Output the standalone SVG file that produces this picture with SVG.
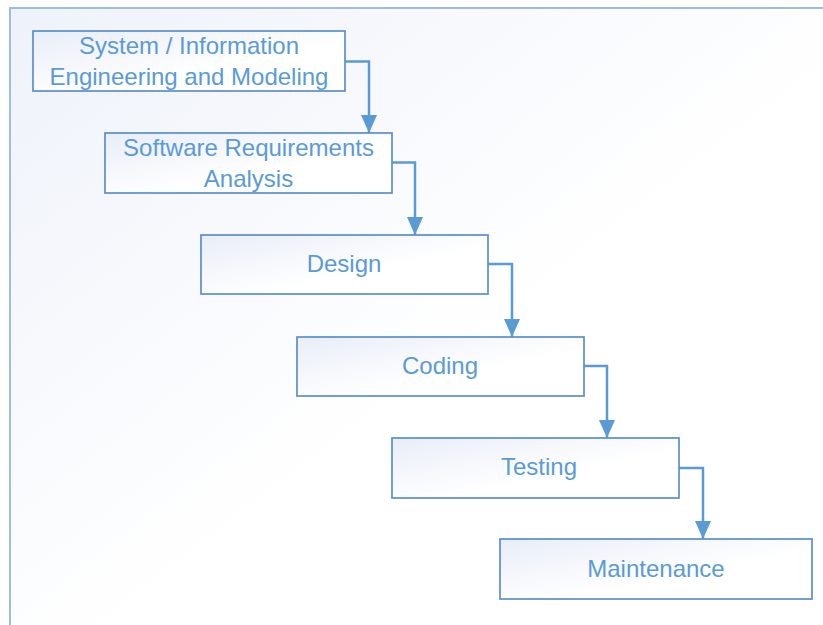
<svg xmlns="http://www.w3.org/2000/svg" width="823" height="625" viewBox="0 0 823 625">
  <defs>
    <linearGradient id="bg" x1="0" y1="0" x2="1" y2="1">
      <stop offset="0" stop-color="#eef2fa"/>
      <stop offset="0.55" stop-color="#ffffff"/>
      <stop offset="1" stop-color="#ffffff"/>
    </linearGradient>
    <linearGradient id="boxfill" x1="0" y1="0" x2="1" y2="1">
      <stop offset="0" stop-color="#e8edf8"/>
      <stop offset="0.6" stop-color="#ffffff"/>
      <stop offset="1" stop-color="#ffffff"/>
    </linearGradient>
    <marker id="arrow" markerUnits="userSpaceOnUse" markerWidth="19" markerHeight="17" refX="18" refY="8" orient="auto">
      <path d="M0,0 L18,8 L0,16 Z" fill="#5b9bd5"/>
    </marker>
  </defs>
  <style>
    .box { fill: url(#boxfill); stroke: #5b8fca; stroke-width: 1.7; }
    .lbl { font-family: "Liberation Sans", Arial, sans-serif; font-size: 24px; fill: #5b9bd5; text-anchor: middle; }
    .conn { fill: none; stroke: #5b9bd5; stroke-width: 2.5; marker-end: url(#arrow); }
  </style>
  <rect x="0" y="0" width="823" height="625" fill="#ffffff"/>
  <rect x="10" y="8" width="830" height="640" fill="url(#bg)" stroke="#a0bde0" stroke-width="2"/>

  <g id="connectors">
    <path class="conn" d="M345,61.5 H369 V133"/>
    <path class="conn" d="M392,162.5 H415 V235"/>
    <path class="conn" d="M488,264 H512 V337"/>
    <path class="conn" d="M584,366 H607 V438"/>
    <path class="conn" d="M679,468 H703 V539"/>
  </g>

  <g id="node-system">
    <rect class="box" x="33" y="31" width="312" height="60"/>
    <text class="lbl" x="189" y="54">System / Information</text>
    <text class="lbl" x="189" y="85">Engineering and Modeling</text>
  </g>
  <g id="node-requirements">
    <rect class="box" x="105" y="133" width="287" height="60"/>
    <text class="lbl" x="248.5" y="156">Software Requirements</text>
    <text class="lbl" x="248.5" y="187">Analysis</text>
  </g>
  <g id="node-design">
    <rect class="box" x="201" y="235" width="287" height="59"/>
    <text class="lbl" x="344" y="272">Design</text>
  </g>
  <g id="node-coding">
    <rect class="box" x="297" y="337" width="287" height="59"/>
    <text class="lbl" x="440" y="374">Coding</text>
  </g>
  <g id="node-testing">
    <rect class="box" x="392" y="438" width="287" height="60"/>
    <text class="lbl" x="539" y="475">Testing</text>
  </g>
  <g id="node-maintenance">
    <rect class="box" x="500" y="539" width="312" height="60"/>
    <text class="lbl" x="656" y="577">Maintenance</text>
  </g>
</svg>
